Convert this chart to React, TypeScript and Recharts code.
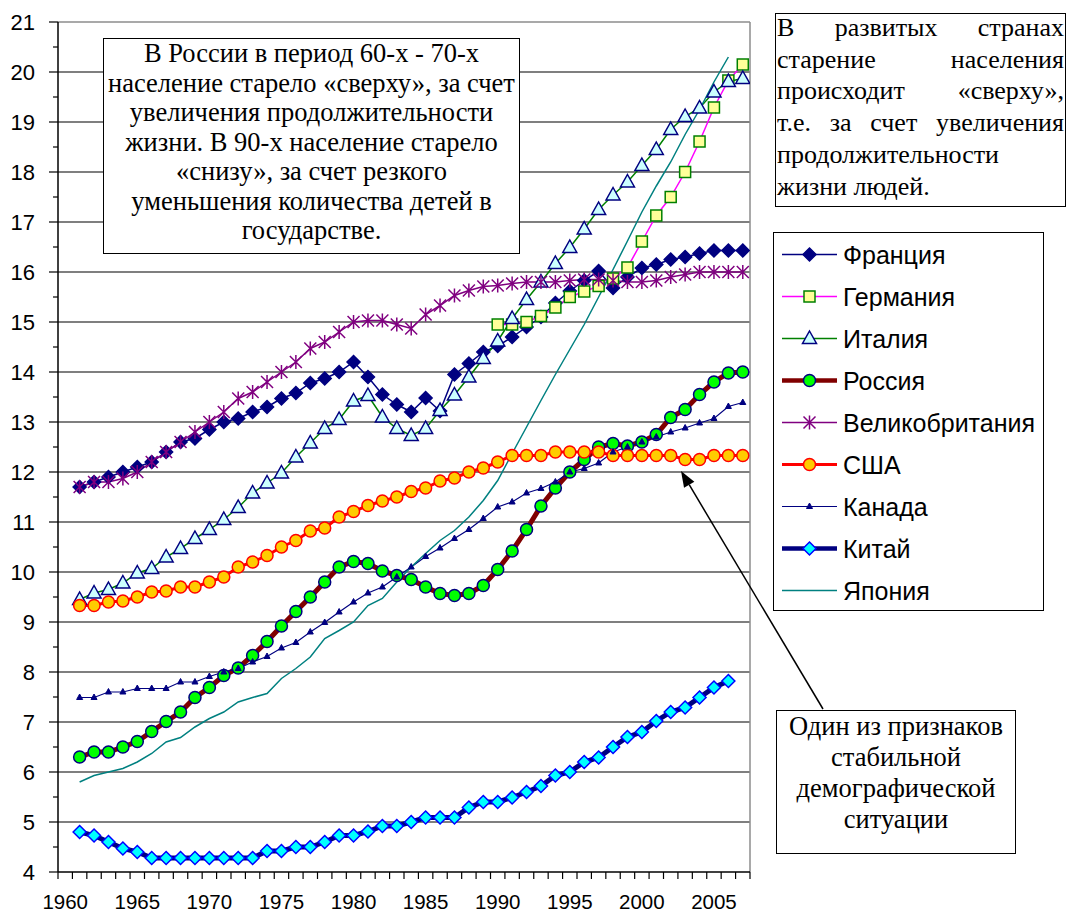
import React from "react";
import {
  LineChart,
  Line,
  XAxis,
  YAxis,
  CartesianGrid,
  ReferenceLine,
  Legend,
} from "recharts";

// categories on the axis (1960 has no data, axis starts there)
const CATEGORY_YEARS = [
  1960, 1961, 1962, 1963, 1964, 1965, 1966, 1967, 1968, 1969, 1970, 1971, 1972,
  1973, 1974, 1975, 1976, 1977, 1978, 1979, 1980, 1981, 1982, 1983, 1984, 1985,
  1986, 1987, 1988, 1989, 1990, 1991, 1992, 1993, 1994, 1995, 1996, 1997, 1998,
  1999, 2000, 2001, 2002, 2003, 2004, 2005, 2006, 2007,
];
const YEARS = CATEGORY_YEARS.slice(1);
const LABEL_YEARS = [1960, 1965, 1970, 1975, 1980, 1985, 1990, 1995, 2000, 2005];
const Y_TICKS = [
  4, 4.5, 5, 5.5, 6, 6.5, 7, 7.5, 8, 8.5, 9, 9.5, 10, 10.5, 11, 11.5, 12, 12.5,
  13, 13.5, 14, 14.5, 15, 15.5, 16, 16.5, 17, 17.5, 18, 18.5, 19, 19.5, 20,
  20.5, 21,
];
const GRID_VALUES = [5, 6, 7, 8, 9, 10, 11, 12, 13, 14, 15, 16, 17, 18, 19, 20];

// 1961..2007
const FRANCE = [
  11.7, 11.8, 11.9, 12.0, 12.1, 12.2, 12.4, 12.6, 12.67, 12.85,
  13.0, 13.07, 13.2, 13.3, 13.47, 13.58, 13.78, 13.87, 14.0, 14.2,
  13.9, 13.55, 13.35, 13.2, 13.48, 13.22, 13.95, 14.17, 14.4, 14.52,
  14.7, 14.9, 15.1, 15.38, 15.62, 15.83, 16.02, 15.68, 15.9, 16.08,
  16.15, 16.25, 16.3, 16.37, 16.43, 16.43, 16.43,
];
// 1990..2007
const GERMANY_START = 1990;
const GERMANY = [
  14.95, 14.95, 15.0, 15.12, 15.29, 15.5, 15.61, 15.72, 15.87, 16.09,
  16.61, 17.13, 17.5, 18.0, 18.61, 19.29, 19.83, 20.15,
];
const ITALY = [
  9.45, 9.58, 9.65, 9.78, 9.98, 10.07, 10.3, 10.47, 10.67, 10.85,
  11.05, 11.29, 11.58, 11.78, 11.98, 12.3, 12.58, 12.87, 13.05, 13.42,
  13.53, 13.1, 12.87, 12.73, 12.87, 13.23, 13.54, 13.9, 14.27, 14.62,
  15.07, 15.45, 15.8, 16.17, 16.49, 16.86, 17.25, 17.54, 17.8, 18.13,
  18.45, 18.85, 19.11, 19.28, 19.6, 19.81, 19.87,
];
const RUSSIA = [
  6.3, 6.4, 6.4, 6.5, 6.61, 6.81, 7.01, 7.2, 7.49, 7.69,
  7.93, 8.08, 8.33, 8.61, 8.92, 9.21, 9.5, 9.8, 10.1, 10.21,
  10.17, 10.02, 9.93, 9.85, 9.7, 9.57, 9.53, 9.57, 9.73, 10.05,
  10.42, 10.85, 11.32, 11.68, 12.0, 12.25, 12.5, 12.57, 12.52, 12.6,
  12.75, 13.09, 13.25, 13.55, 13.8, 13.98, 14.0,
];
const UK = [
  11.7, 11.8, 11.8, 11.87, 12.0, 12.2, 12.4, 12.6, 12.8, 13.0,
  13.2, 13.47, 13.6, 13.8, 14.0, 14.2, 14.47, 14.6, 14.8, 15.0,
  15.03, 15.03, 14.95, 14.87, 15.15, 15.33, 15.53, 15.63, 15.71, 15.73,
  15.77, 15.8, 15.8, 15.8, 15.83, 15.85, 15.85, 15.83, 15.8, 15.8,
  15.83, 15.9, 15.95, 16.0, 16.0, 16.0, 16.0,
];
const USA = [
  9.33, 9.33, 9.4, 9.42, 9.5, 9.6, 9.62, 9.7, 9.7, 9.8,
  9.9, 10.1, 10.2, 10.33, 10.5, 10.63, 10.82, 10.88, 11.1, 11.21,
  11.33, 11.42, 11.5, 11.61, 11.68, 11.82, 11.88, 12.0, 12.08, 12.2,
  12.33, 12.33, 12.33, 12.4, 12.4, 12.4, 12.4, 12.33, 12.33, 12.33,
  12.33, 12.33, 12.25, 12.25, 12.33, 12.33, 12.33,
];
const CANADA = [
  7.49, 7.49, 7.6, 7.6, 7.67, 7.67, 7.67, 7.8, 7.8, 7.91,
  8.0, 8.07, 8.2, 8.31, 8.48, 8.59, 8.8, 8.99, 9.2, 9.4,
  9.58, 9.7, 9.9, 10.1, 10.31, 10.48, 10.67, 10.85, 11.07, 11.3,
  11.4, 11.58, 11.67, 11.8, 12.0, 12.07, 12.18, 12.4, 12.5, 12.6,
  12.7, 12.8, 12.88, 12.98, 13.07, 13.31, 13.39,
];
// 1961..2006
const CHINA = [
  4.8, 4.73, 4.6, 4.47, 4.4, 4.28, 4.28, 4.28, 4.28, 4.28,
  4.28, 4.28, 4.28, 4.42, 4.42, 4.5, 4.5, 4.6, 4.73, 4.73,
  4.81, 4.92, 4.92, 5.0, 5.09, 5.09, 5.09, 5.29, 5.4, 5.4,
  5.49, 5.6, 5.72, 5.93, 6.0, 6.2, 6.29, 6.5, 6.7, 6.8,
  7.02, 7.2, 7.29, 7.49, 7.69, 7.82,
];
const JAPAN = [
  5.8, 5.93, 6.0, 6.07, 6.2, 6.37, 6.6, 6.69, 6.9, 7.07,
  7.2, 7.4, 7.49, 7.57, 7.87, 8.07, 8.3, 8.67, 8.83, 9.0,
  9.33, 9.47, 9.8, 10.1, 10.37, 10.63, 10.83, 11.1, 11.43, 11.83,
  12.37, 12.9, 13.43, 13.95, 14.45, 14.95, 15.5, 16.05, 16.62, 17.2,
  17.72, 18.2, 18.75, 19.25, 19.8, 20.3,
];

const data = YEARS.map((year, i) => ({
  year,
  france: FRANCE[i],
  germany: year >= GERMANY_START ? GERMANY[year - GERMANY_START] : null,
  italy: ITALY[i],
  russia: RUSSIA[i],
  uk: UK[i],
  usa: USA[i],
  canada: CANADA[i],
  china: CHINA[i] ?? null,
  japan: JAPAN[i] ?? null,
}));

const SERIES = [
  { key: "france", name: "Франция", stroke: "#000080", width: 1.5, marker: "diamond", fill: "#000080", mstroke: "#000080" },
  { key: "germany", name: "Германия", stroke: "#FF00FF", width: 1.5, marker: "square", fill: "#FFFF99", mstroke: "#008000" },
  { key: "italy", name: "Италия", stroke: "#008000", width: 1.5, marker: "triangle", fill: "#CCFFFF", mstroke: "#000080" },
  { key: "russia", name: "Россия", stroke: "#800000", width: 5, marker: "circle", fill: "#00FF00", mstroke: "#000080" },
  { key: "uk", name: "Великобритания", stroke: "#800080", width: 1.5, marker: "star", fill: "none", mstroke: "#800080" },
  { key: "usa", name: "США", stroke: "#FF0000", width: 3, marker: "circle", fill: "#FFCC00", mstroke: "#FF0000" },
  { key: "canada", name: "Канада", stroke: "#000080", width: 1.2, marker: "smalltri", fill: "#000080", mstroke: "#000080" },
  { key: "china", name: "Китай", stroke: "#000080", width: 5, marker: "diamond", fill: "#00FFFF", mstroke: "#0000FF" },
  { key: "japan", name: "Япония", stroke: "#008080", width: 1.5, marker: "none", fill: "none", mstroke: "none" },
];

const SANS = '"Liberation Sans", Arial, sans-serif';
const SERIF = '"Liberation Serif", "Times New Roman", serif';
const PLOT_W = 692;
const HALF_BAND = PLOT_W / CATEGORY_YEARS.length / 2;

function Marker({ kind, cx, cy, fill, stroke }: any) {
  switch (kind) {
    case "diamond":
      return (
        <polygon
          points={`${cx},${cy - 6.5} ${cx + 6.5},${cy} ${cx},${cy + 6.5} ${cx - 6.5},${cy}`}
          fill={fill}
          stroke={stroke}
          strokeWidth={1.5}
        />
      );
    case "square":
      return <rect x={cx - 5.5} y={cy - 5.5} width={11} height={11} fill={fill} stroke={stroke} strokeWidth={1.5} />;
    case "triangle":
      return (
        <polygon
          points={`${cx},${cy - 7.5} ${cx + 7},${cy + 5} ${cx - 7},${cy + 5}`}
          fill={fill}
          stroke={stroke}
          strokeWidth={1.5}
        />
      );
    case "circle":
      return <circle cx={cx} cy={cy} r={6} fill={fill} stroke={stroke} strokeWidth={1.5} />;
    case "star":
      return (
        <path
          d={`M${cx},${cy - 7}V${cy + 7}M${cx - 6},${cy - 6}L${cx + 6},${cy + 6}M${cx + 6},${cy - 6}L${cx - 6},${cy + 6}`}
          stroke={stroke}
          strokeWidth={1.5}
          fill="none"
        />
      );
    case "smalltri":
      return <polygon points={`${cx},${cy - 3.5} ${cx + 3},${cy + 2} ${cx - 3},${cy + 2}`} fill={fill} stroke={stroke} />;
    default:
      return null;
  }
}

function makeDot(s: any) {
  if (s.marker === "none") return false;
  return (p: any) => {
    const k = `${s.key}-${p.index}`;
    if (p.value == null || p.cy == null || Number.isNaN(p.cy)) return <g key={k} />;
    return (
      <g key={k}>
        <Marker kind={s.marker} cx={p.cx} cy={p.cy} fill={s.fill} stroke={s.mstroke} />
      </g>
    );
  };
}

const XTick = (props: any) => {
  const { x, y, payload } = props;
  const label = payload.value + 0.5;
  return (
    <g>
      <line x1={x} x2={x} y1={y} y2={y + 7} stroke="#000" strokeWidth={1.2} />
      {LABEL_YEARS.includes(label) && (
        <text x={x + HALF_BAND} y={y + 37} textAnchor="middle" fontFamily={SANS} fontSize={20.5} fill="#000">
          {label}
        </text>
      )}
    </g>
  );
};

const YTick = (props: any) => {
  const { x, y, payload } = props;
  const major = Number.isInteger(payload.value);
  return (
    <g>
      <line x1={x - (major ? 9 : 5)} x2={x} y1={y} y2={y} stroke="#000" strokeWidth={1.2} />
      {major && (
        <text x={x - 23} y={y + 8} textAnchor="end" fontFamily={SANS} fontSize={22} fill="#000">
          {payload.value}
        </text>
      )}
    </g>
  );
};

const LegendBox = () => (
  <div
    style={{
      width: 271,
      height: 379,
      boxSizing: "border-box",
      border: "1.5px solid #000",
      background: "#fff",
    }}
  >
    <svg width={268} height={376} style={{ display: "block" }}>
      {SERIES.map((s, i) => {
        const cy = 21.5 + i * 42;
        return (
          <g key={s.key}>
            <line x1={8} x2={63} y1={cy} y2={cy} stroke={s.stroke} strokeWidth={Math.min(s.width, 4.5)} />
            <Marker kind={s.marker} cx={35.5} cy={cy} fill={s.fill} stroke={s.mstroke} />
            <text x={69} y={cy + 9} fontFamily={SANS} fontSize={25} fill="#000">
              {s.name}
            </text>
          </g>
        );
      })}
    </svg>
  </div>
);

const boxBase: React.CSSProperties = {
  position: "absolute",
  boxSizing: "border-box",
  border: "1.5px solid #000",
  background: "#fff",
  fontFamily: SERIF,
  color: "#000",
  whiteSpace: "nowrap",
  overflow: "hidden",
};

const BOX1_LINES = [
  "В России в период 60-х - 70-х",
  "население старело «сверху», за счет",
  "увеличения продолжительности",
  "жизни. В 90-х население старело",
  "«снизу», за счет резкого",
  "уменьшения количества детей в",
  "государстве.",
];
const BOX2_LINES = [
  "В развитых странах",
  "старение населения",
  "происходит «сверху»,",
  "т.е. за счет увеличения",
  "продолжительности",
  "жизни людей.",
];
const BOX3_LINES = ["Один из признаков", "стабильной", "демографической", "ситуации"];

function Arrow({ x1, y1, x2, y2 }: any) {
  const dx = x2 - x1;
  const dy = y2 - y1;
  const len = Math.hypot(dx, dy);
  const ux = dx / len;
  const uy = dy / len;
  const bx = x2 - ux * 16;
  const by = y2 - uy * 16;
  const px = -uy * 6;
  const py = ux * 6;
  return (
    <g>
      <line x1={x1} y1={y1} x2={bx} y2={by} stroke="#000" strokeWidth={1.5} />
      <polygon points={`${x2},${y2} ${bx + px},${by + py} ${bx - px},${by - py}`} fill="#000" />
    </g>
  );
}

export default function App() {
  return (
    <div style={{ position: "absolute", left: 0, top: 0, width: 1067, height: 912, background: "#fff" }}>
      <LineChart
        width={1067}
        height={912}
        data={data}
        margin={{ top: 22, right: 317, bottom: 0, left: 0 }}
      >
        <CartesianGrid vertical={false} horizontalValues={GRID_VALUES} stroke="#000" strokeWidth={1.2} />
        <ReferenceLine y={21} stroke="#8c8c8c" strokeWidth={1.5} />
        <ReferenceLine x={2007.5} stroke="#8c8c8c" strokeWidth={1.5} />
        <XAxis
          dataKey="year"
          type="number"
          domain={[1959.5, 2007.5]}
          ticks={CATEGORY_YEARS.map((y) => y - 0.5).concat([2007.5])}
          interval={0}
          allowDataOverflow
          tickLine={false}
          tickSize={0}
          tickMargin={0}
          height={40}
          axisLine={{ stroke: "#000", strokeWidth: 1.5 }}
          tick={<XTick />}
        />
        <YAxis
          type="number"
          domain={[4, 21]}
          ticks={Y_TICKS}
          interval={0}
          allowDataOverflow
          width={58}
          tickLine={false}
          tickSize={0}
          tickMargin={0}
          axisLine={{ stroke: "#000", strokeWidth: 1.5 }}
          tick={<YTick />}
        />
        <Legend
          layout="vertical"
          align="center"
          verticalAlign="middle"
          content={() => <LegendBox />}
          wrapperStyle={{ position: "absolute", left: 773, top: 232, width: 271, height: 379, margin: 0 }}
        />
        {SERIES.map((s) => (
          <Line
            key={s.key}
            type="linear"
            dataKey={s.key}
            name={s.name}
            stroke={s.stroke}
            strokeWidth={s.width}
            dot={makeDot(s) as any}
            activeDot={false}
            connectNulls={false}
            isAnimationActive={false}
          />
        ))}
      </LineChart>

      <div
        style={{
          ...boxBase,
          left: 103,
          top: 38,
          width: 417,
          height: 216,
          textAlign: "center",
          fontSize: 26.5,
          lineHeight: "29.5px",
        }}
      >
        {BOX1_LINES.map((t) => (
          <div key={t}>{t}</div>
        ))}
      </div>

      <div
        style={{
          ...boxBase,
          left: 775,
          top: 13,
          width: 291,
          height: 194,
          fontSize: 26,
          lineHeight: "31.7px",
          padding: "0 1px",
        }}
      >
        <div style={{ marginTop: -2 }}>
          {BOX2_LINES.map((t, i) => (
            <div key={t} style={{ textAlign: "justify", textAlignLast: i < 4 ? "justify" : "left" }}>
              {t}
            </div>
          ))}
        </div>
      </div>

      <div
        style={{
          ...boxBase,
          left: 776,
          top: 710,
          width: 240,
          height: 144,
          textAlign: "center",
          fontSize: 26.5,
          lineHeight: "31px",
        }}
      >
        {BOX3_LINES.map((t) => (
          <div key={t}>{t}</div>
        ))}
      </div>

      <svg width={1067} height={912} style={{ position: "absolute", left: 0, top: 0, pointerEvents: "none" }}>
        <Arrow x1={823} y1={709} x2={681} y2={471} />
      </svg>
    </div>
  );
}
